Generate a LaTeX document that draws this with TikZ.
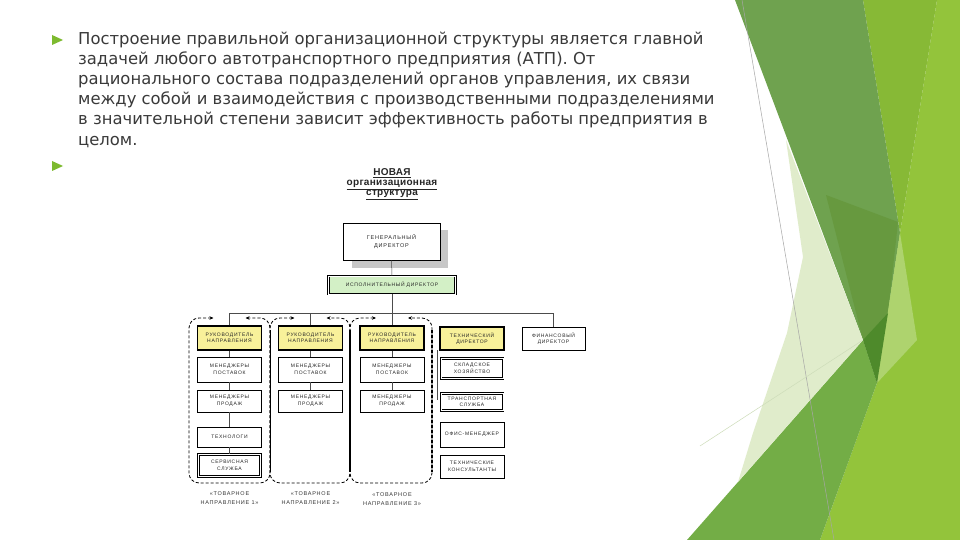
\documentclass[tikz,border=0pt]{standalone}
\usepackage{fontspec}
\setmainfont{DejaVu Sans}
\newfontfamily\chartfont[LetterSpace=14]{Liberation Sans}
\newfontfamily\titlefont[LetterSpace=3]{Liberation Sans}
\usetikzlibrary{arrows.meta}
\definecolor{txtgray}{HTML}{3A3A3A}
\definecolor{bullet}{HTML}{7DBA2F}
\definecolor{gdark}{HTML}{6FA24F}
\definecolor{gdarker}{HTML}{67993F}
\definecolor{gdeep}{HTML}{4E8A2B}
\definecolor{glime}{HTML}{87B936}
\definecolor{gbright}{HTML}{93C43B}
\definecolor{glow}{HTML}{73AD46}
\definecolor{gpale}{HTML}{E0ECCB}
\definecolor{gstripe}{HTML}{AED36E}
\definecolor{boxyellow}{HTML}{F8F19A}
\definecolor{boxgreen}{HTML}{D3F0C6}
\tikzset{
  cbox/.style={draw=black, line width=0.6pt, fill=white, minimum width=64pt,
    inner sep=0.5pt, align=center, font=\chartfont\fontsize{5}{6.5}\selectfont, text=black!85},
  ybox/.style={cbox, fill=boxyellow, line width=1.1pt},
  dbox/.style={cbox, double, double distance=0.9pt, line width=0.6pt, minimum width=62pt},
  grp/.style={dash pattern=on 3pt off 2pt, line width=0.8pt, rounded corners=10pt,
    {Stealth[length=4pt,width=3.5pt]}-{Stealth[length=4pt,width=3.5pt]}},
  conn/.style={draw=black!70, line width=0.5pt},
  grplabel/.style={font=\chartfont\fontsize{5.5}{9}\selectfont, align=center, text=black!80}
}
\begin{document}
\begin{tikzpicture}[x=1pt,y=-1pt]
\useasboundingbox (0,0) rectangle (960,540);
\fill[white] (0,0) rectangle (960,540);

% decoration on the right
\fill[gbright] (937,0) -- (960,0) -- (960,540) -- (820,540) -- (877,383) -- (900,233) -- cycle;
\fill[glime] (863,0) -- (937,0) -- (900,233) -- cycle;
\fill[gdark] (735,0) -- (863,0) -- (900,233) -- (877,383) -- (863,340) -- cycle;
\fill[gdarker] (826,195) -- (898,222) -- (888,313) -- (863,340) -- cycle;
\fill[gstripe] (900,233) -- (917,340) -- (877,383) -- cycle;
\fill[glow] (687,540) -- (863,340) -- (877,383) -- (820,540) -- cycle;
\fill[gdeep] (863,340) -- (888,313) -- (877,383) -- cycle;
\fill[gpale] (786,140) -- (863,340) -- (738,482) -- (753,433) -- (787,333) -- (803,257) -- cycle;
\draw[gray!70, line width=0.5pt] (742,0) -- (834,540);
\draw[color={rgb,255:red,205;green,220;blue,185}, line width=0.5pt] (700,446) -- (863,340);

% bullets
\fill[bullet] (52,35) -- (63,40) -- (52,45) -- cycle;
\fill[bullet] (52,161) -- (63,166) -- (52,171) -- cycle;

% paragraph
\node[anchor=north west, align=left, inner sep=0, text=txtgray,
      font=\fontsize{16.4}{20.2}\selectfont] (para) at (78,31.5)
  {Построение правильной организационной структуры является главной\\
   задачей любого автотранспортного предприятия (АТП). От\\
   рационального состава подразделений органов управления, их связи\\
   между собой и взаимодействия с производственными подразделениями\\
   в значительной степени зависит эффективность работы предприятия в\\
   целом.};

% title
\node[font=\titlefont\bfseries\fontsize{10}{10}\selectfont, align=center, text=black!85] (title) at (392,184)
  {\underline{НОВАЯ}\\\underline{организационная}\\\underline{структура}};

% top directors
\fill[black!22] (352,230) rectangle (448,268);
\node[cbox, line width=1pt, minimum width=97pt, minimum height=37pt,
      font=\chartfont\fontsize{5.5}{7.5}\selectfont] (gen) at (391.5,241.5) {ГЕНЕРАЛЬНЫЙ\\ДИРЕКТОР};
\node[dbox, fill=boxgreen, minimum width=127pt, minimum height=18pt] (exe) at (392,285)
  {ИСПОЛНИТЕЛЬНЫЙ ДИРЕКТОР};

% groups
\foreach \l/\r/\c in {189/270/229.5, 270/350/310.5, 350/432/392}{
  \draw[grp] ({\c-16},318) -- (\l,318) -- (\l,483) -- (\r,483) -- (\r,318) -- ({\c+16},318);
}
\draw[line width=0.8pt] (270,330) -- (270,472);
\draw[line width=1.1pt] (350,330) -- (350,472);
\draw[line width=1.7pt, dash pattern=on 3pt off 2pt] (432,330) -- (432,472);

% columns
\foreach \i/\x in {1/229.5, 2/310.5, 3/392}{
  \node[ybox, minimum height=24pt] (a\i) at (\x,338) {РУКОВОДИТЕЛЬ\\НАПРАВЛЕНИЯ};
  \node[cbox, minimum height=25pt] (b\i) at (\x,369.5) {МЕНЕДЖЕРЫ\\ПОСТАВОК};
  \node[cbox, minimum height=22pt] (c\i) at (\x,401) {МЕНЕДЖЕРЫ\\ПРОДАЖ};
  \draw[conn] (a\i.south) -- (b\i.north);
  \draw[conn] (b\i.south) -- (c\i.north);
}
\node[cbox, minimum height=20pt] (d1) at (229.5,437) {ТЕХНОЛОГИ};
\node[dbox, minimum height=22pt] (e1) at (229.5,465.5) {СЕРВИСНАЯ\\СЛУЖБА};
\draw[conn] (c1.south) -- (d1.north);
\draw[conn] (d1.south) -- (e1.north);

% technical column
\node[ybox, minimum height=23pt] (t1) at (472,338.5) {ТЕХНИЧЕСКИЙ\\ДИРЕКТОР};
\node[dbox, minimum height=20pt] (t2) at (472,368.5) {СКЛАДСКОЕ\\ХОЗЯЙСТВО};
\node[dbox, minimum height=17pt] (t3) at (472,402) {ТРАНСПОРТНАЯ\\СЛУЖБА};
\node[cbox, minimum height=25pt] (t4) at (472,434.5) {ОФИС-МЕНЕДЖЕР};
\node[cbox, minimum height=23pt] (t5) at (472,466.5) {ТЕХНИЧЕСКИЕ\\КОНСУЛЬТАНТЫ};
\node[cbox, line width=0.9pt, minimum height=23pt, minimum width=63pt] (fin) at (553.5,338.5) {ФИНАНСОВЫЙ\\ДИРЕКТОР};
\coordinate (tv1) at (437,350);
\coordinate (tv2) at (437,400);
\draw[conn] (tv1) -- (tv2);

% connectors from directors
\coordinate (busL) at (229.5,313);
\coordinate (busR) at (553.5,313);
\draw[conn] (gen.south) -- (exe.north);
\draw[conn] (exe.south) -- (a3.north);
\draw[conn] (a1.north) -- (busL) -- (busR) -- (fin.north);
\draw[conn] (a2.north) -- (a2.north |- busL);

% group labels
\node[grplabel] (lab1) at (229.5,498) {«ТОВАРНОЕ\\НАПРАВЛЕНИЕ 1»};
\node[grplabel] (lab2) at (310.5,498) {«ТОВАРНОЕ\\НАПРАВЛЕНИЕ 2»};
\node[grplabel] (lab3) at (392,499) {«ТОВАРНОЕ\\НАПРАВЛЕНИЕ 3»};
\end{tikzpicture}
\end{document}
